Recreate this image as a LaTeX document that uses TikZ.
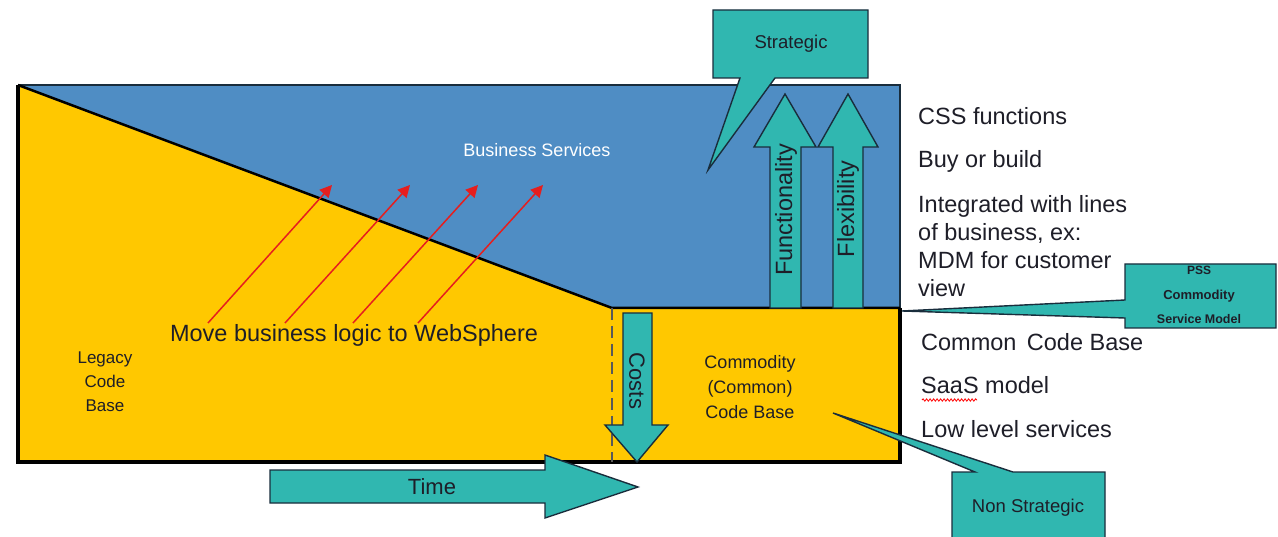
\documentclass[tikz,border=0pt]{standalone}
\usepackage{fontspec}
\setmainfont{Liberation Sans}
\usetikzlibrary{arrows.meta,decorations.pathmorphing}
\definecolor{blueF}{RGB}{79,141,196}
\definecolor{yellowF}{RGB}{255,200,0}
\definecolor{tealF}{RGB}{48,183,176}
\definecolor{outl}{RGB}{25,45,60}
\definecolor{txt}{RGB}{30,30,40}
\definecolor{redA}{RGB}{230,30,30}
\newcommand{\fs}[1]{\fontsize{#1}{#1}\selectfont}
\tikzset{
  tealshape/.style={fill=tealF, draw=outl, line width=1.4pt, line join=miter},
  lbl/.style={text=txt, inner sep=0pt},
  movearrow/.style={draw=redA, line width=1.5pt, -{Triangle[length=12pt,width=12pt]}},
}
\begin{document}
\begin{tikzpicture}[x=1pt,y=-1pt]
\useasboundingbox (0,0) rectangle (1278,537);
\clip (0,0) rectangle (1278,537);
\fill[white] (0,0) rectangle (1278,537);
% main regions
\coordinate (tl) at (18,85);
\coordinate (tr) at (900,85);
\coordinate (mid) at (612,308);
\coordinate (mr) at (900,308);
\coordinate (br) at (900,462);
\coordinate (bl) at (18,462);
\coordinate (md) at (612,462);
\fill[blueF] (tl) -- (tr) -- (mr) -- (mid) -- cycle;
\fill[yellowF] (tl) -- (mid) -- (mr) -- (br) -- (bl) -- cycle;
\draw[outl, line width=2pt] (tl) -- (tr) -- (mr);
\draw[black, line width=2.5pt] (tl) -- (mid) -- (mr);
\draw[black, line width=4pt, line join=miter] (mr) -- (br) -- (bl) -- (tl);
\draw[gray!70!black, line width=1.5pt, dash pattern=on 12pt off 6pt] (mid) -- (md);
% texts in regions
\node[lbl, text=white, font=\fs{18}] (bs) at (537,150) {Business Services};
\node[lbl, font=\fs{17}, align=center] (legacy) at (105,382) {Legacy\\[7pt]Code\\[7pt]Base};
\node[lbl, font=\fs{18}, align=center] (commodity) at (750,387) {Commodity\\[7pt](Common)\\[7pt]Code Base};
\node[lbl, font=\fs{23.5}, anchor=base] (move) at (354,342) {Move business logic to WebSphere};
% red arrows
\coordinate (r1s) at (208,323); \coordinate (r1e) at (332,185);
\coordinate (r2s) at (285,323); \coordinate (r2e) at (410,185);
\coordinate (r3s) at (353,323); \coordinate (r3e) at (478,185);
\coordinate (r4s) at (418,323); \coordinate (r4e) at (543,185);
\draw[movearrow] (r1s) -- (r1e);
\draw[movearrow] (r2s) -- (r2e);
\draw[movearrow] (r3s) -- (r3e);
\draw[movearrow] (r4s) -- (r4e);
% block arrows
\draw[tealshape] (770,308) -- (770,147) -- (754,147) -- (785,94) -- (816,147) -- (801,147) -- (801,308) -- cycle;
\draw[tealshape] (833,308) -- (833,147) -- (818,147) -- (848,94) -- (878,147) -- (863,147) -- (863,308) -- cycle;
\node[lbl, font=\fs{23.5}, rotate=90] (func) at (786,210) {Functionality};
\node[lbl, font=\fs{23.5}, rotate=90] (flex) at (848,209) {Flexibility};
\draw[tealshape] (623,313) -- (652,313) -- (652,425) -- (668,425) -- (637,462) -- (605,425) -- (623,425) -- cycle;
\node[lbl, font=\fs{22}, rotate=-90] (costs) at (637,381) {Costs};
\draw[tealshape] (270,470) -- (545,470) -- (545,455) -- (638,487) -- (545,518) -- (545,503) -- (270,503) -- cycle;
\node[lbl, font=\fs{22}] (time) at (432,487) {Time};
% callouts
\draw[tealshape] (713,10) -- (868,10) -- (868,78) -- (775,78) -- (708,170) -- (740,78) -- (713,78) -- cycle;
\node[lbl, font=\fs{18.5}] (strat) at (791,44) {Strategic};
\draw[tealshape] (1125,264) -- (1276,264) -- (1276,328) -- (1125,328) -- (1125,318) -- (902,311) -- (1125,300) -- cycle;
\node[lbl, font=\bfseries\fs{12}] (pss1) at (1199,270) {PSS};
\node[lbl, font=\bfseries\fs{13}] (pss2) at (1199,296) {Commodity};
\node[lbl, font=\bfseries\fs{12.5}] (pss3) at (1199,319) {Service Model};
\draw[tealshape] (952,472) -- (975,472) -- (833,413) -- (1013,472) -- (1105,472) -- (1105,550) -- (952,550) -- cycle;
\node[lbl, font=\fs{18.5}] (nonstrat) at (1028,508) {Non Strategic};
% right column
\node[lbl, font=\fs{23.5}, anchor=base west] (t1) at (918,125) {CSS functions};
\node[lbl, font=\fs{23.5}, anchor=base west] (t2) at (918,168) {Buy or build};
\node[lbl, font=\fs{23.5}, anchor=base west] (t3) at (918,213) {Integrated with lines};
\node[lbl, font=\fs{23.5}, anchor=base west] (t4) at (918,241) {of business, ex:};
\node[lbl, font=\fs{23.5}, anchor=base west] (t5) at (918,269) {MDM for customer};
\node[lbl, font=\fs{23.5}, anchor=base west] (t6) at (918,297) {view};
\node[lbl, font=\fs{23.5}, anchor=base west] (b1) at (921,351) {Common\, Code Base};
\node[lbl, font=\fs{23.5}, anchor=base west] (b2) at (921,394) {SaaS model};
\node[lbl, font=\fs{23.5}, anchor=base west] (b3) at (921,437) {Low level services};
\draw[red, line width=0.8pt, decorate, decoration={snake, amplitude=1.2pt, segment length=3.5pt}] (922,400) -- (977,400);
\end{tikzpicture}
\end{document}
